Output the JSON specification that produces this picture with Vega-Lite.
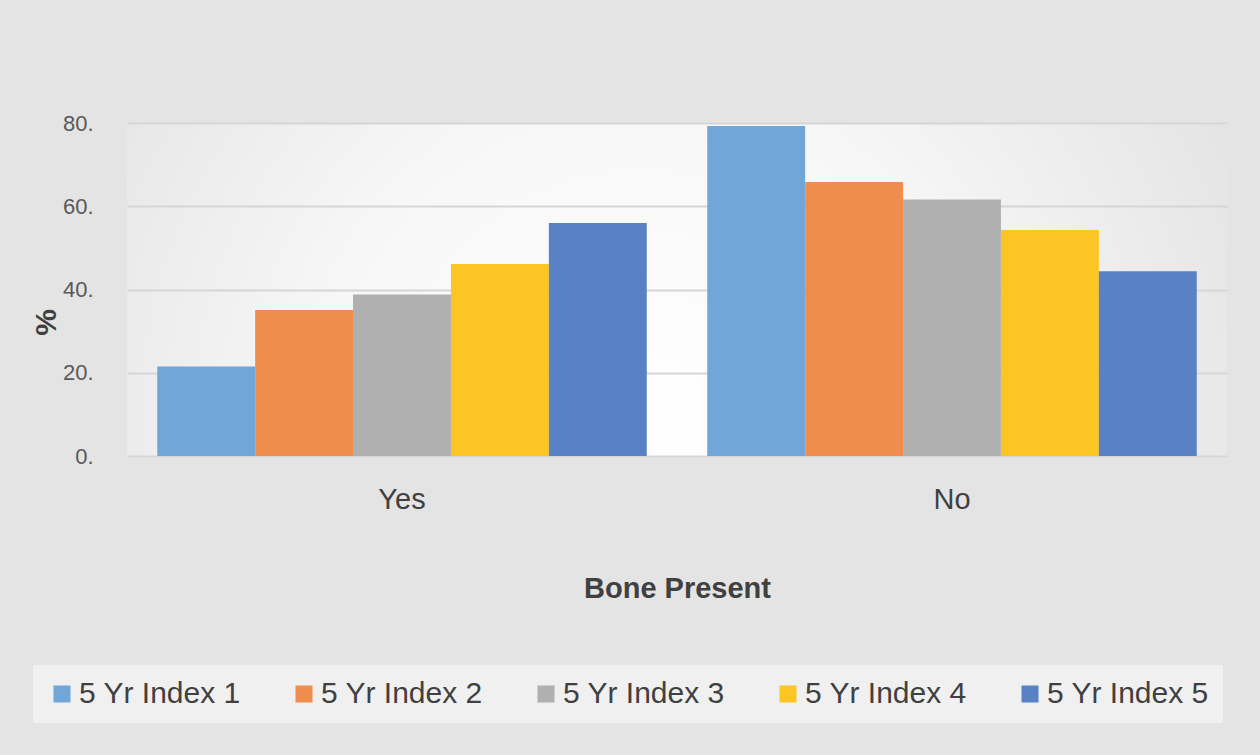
{
  "$schema": "https://vega.github.io/schema/vega-lite/v6.json",
  "autosize": "none",
  "width": 1100,
  "height": 333,
  "padding": {"left": 127, "top": 123, "right": 33, "bottom": 299},
  "background": "#e4e4e4",
  "config": {
    "font": "Liberation Sans",
    "view": {
      "stroke": null,
      "fill": {
        "gradient": "radial",
        "x1": 0.47, "y1": 0.62, "r1": 0,
        "x2": 0.47, "y2": 0.62, "r2": 0.85,
        "stops": [
          {"offset": 0, "color": "#ffffff"},
          {"offset": 0.35, "color": "#f7f7f7"},
          {"offset": 1, "color": "#d4d4d4"}
        ]
      }
    }
  },
  "data": {
    "values": [
      {"bone": "Yes", "index": "5 Yr Index 1", "pct": 21.5},
      {"bone": "Yes", "index": "5 Yr Index 2", "pct": 35.1},
      {"bone": "Yes", "index": "5 Yr Index 3", "pct": 38.8},
      {"bone": "Yes", "index": "5 Yr Index 4", "pct": 46.1},
      {"bone": "Yes", "index": "5 Yr Index 5", "pct": 56.0},
      {"bone": "No", "index": "5 Yr Index 1", "pct": 79.3},
      {"bone": "No", "index": "5 Yr Index 2", "pct": 65.8},
      {"bone": "No", "index": "5 Yr Index 3", "pct": 61.6},
      {"bone": "No", "index": "5 Yr Index 4", "pct": 54.3},
      {"bone": "No", "index": "5 Yr Index 5", "pct": 44.4}
    ]
  },
  "mark": {"type": "bar", "opacity": 1},
  "encoding": {
    "x": {
      "field": "bone",
      "type": "nominal",
      "sort": ["Yes", "No"],
      "scale": {"paddingInner": 0.11, "paddingOuter": 0.055},
      "axis": {
        "title": "Bone Present",
        "titleFontSize": 29,
        "titleFontWeight": "bold",
        "titleColor": "#404040",
        "titlePadding": 60,
        "labelAngle": 0,
        "labelFontSize": 29,
        "labelColor": "#404040",
        "labelPadding": 29,
        "ticks": false,
        "domain": false,
        "grid": false
      }
    },
    "xOffset": {
      "field": "index",
      "type": "nominal",
      "scale": {"paddingInner": 0, "paddingOuter": 0}
    },
    "y": {
      "field": "pct",
      "type": "quantitative",
      "scale": {"domain": [0, 80], "nice": false},
      "axis": {
        "title": "%",
        "titleFontSize": 30,
        "titleFontWeight": "bold",
        "titleColor": "#404040",
        "titleAngle": -90,
        "titleBaseline": "alphabetic",
        "titleX": -72,
        "titleY": 199,
        "values": [0, 20, 40, 60, 80],
        "labelExpr": "datum.value + '.'",
        "labelFontSize": 22,
        "labelColor": "#595959",
        "labelPadding": 34,
        "labelBaseline": "middle",
        "ticks": false,
        "domain": false,
        "gridColor": "#d6d6d6",
        "gridWidth": 2,
        "encode": {
          "labels": {"update": {"dy": {"signal": "(40 - datum.value) * 0.21"}}}
        }
      }
    },
    "color": {
      "field": "index",
      "type": "nominal",
      "scale": {
        "domain": ["5 Yr Index 1", "5 Yr Index 2", "5 Yr Index 3", "5 Yr Index 4", "5 Yr Index 5"],
        "range": ["#70a6d8", "#ef8d4f", "#b0b0b0", "#fbc523", "#5981c6"]
      },
      "legend": {
        "title": null,
        "orient": "none",
        "direction": "horizontal",
        "legendX": -94,
        "legendY": 542,
        "symbolType": "square",
        "symbolSize": 289,
        "symbolStrokeWidth": 0,
        "symbolOpacity": 1,
        "labelFontSize": 30,
        "labelColor": "#404040",
        "labelOffset": 2,
        "labelLimit": 400,
        "columnPadding": 48,
        "padding": 14,
        "fillColor": "rgba(244,244,244,0.75)",
        "strokeColor": null
      }
    }
  }
}
